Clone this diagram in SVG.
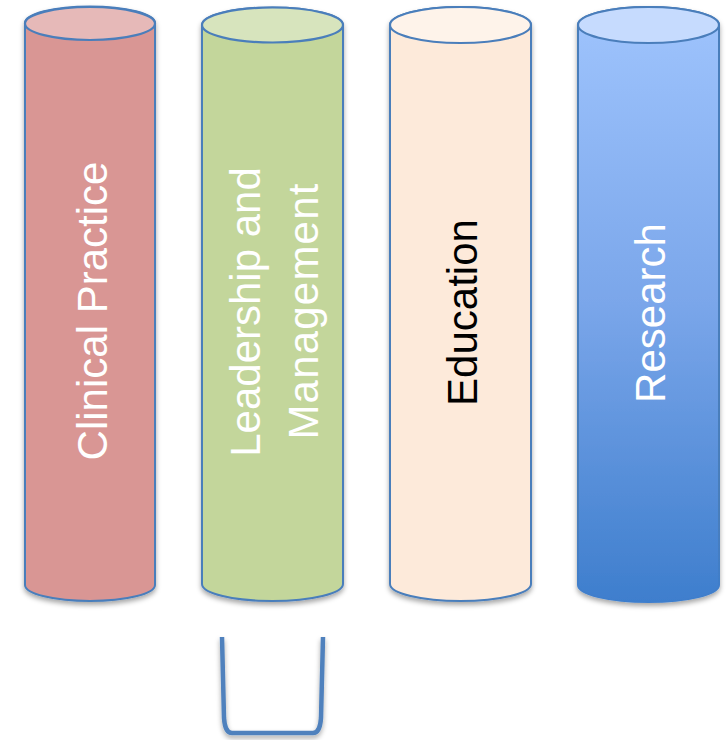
<svg xmlns="http://www.w3.org/2000/svg" width="726" height="741" viewBox="0 0 726 741">
<defs>
<linearGradient id="blueGrad" x1="0" y1="0" x2="0" y2="1">
<stop offset="0" stop-color="#9FC4FD"/>
<stop offset="0.5" stop-color="#7AA6EA"/>
<stop offset="1" stop-color="#3E7ECD"/>
</linearGradient>
<linearGradient id="blueStroke" x1="0" y1="0" x2="0" y2="1">
<stop offset="0" stop-color="#4A7EBB"/>
<stop offset="0.85" stop-color="#4A7EBB"/>
<stop offset="1" stop-color="#3E7ECD"/>
</linearGradient>
<filter id="shadow" x="-10%" y="-5%" width="120%" height="112%">
<feDropShadow dx="0" dy="3" stdDeviation="2.5" flood-color="#000" flood-opacity="0.35"/>
</filter>
</defs>
<style>
.body{stroke:#4A7EBB;stroke-width:2;}
.top{stroke:#4A7EBB;stroke-width:2.2;}
.lbl{font-family:"Liberation Sans",Arial,sans-serif;font-size:42px;text-anchor:middle;}
.w{fill:#FFFFFF;}
.k{fill:#000000;}
</style>
<rect width="726" height="741" fill="#FFFFFF"/>
<g id="clinical-practice">
<path class="body" filter="url(#shadow)" fill="#D99694" d="M25 23 L25 585 A65 16 0 0 0 155 585 L155 23 A65 16.5 0 0 0 25 23 Z"/>
<ellipse class="top" fill="#E6B9B8" cx="90" cy="23.5" rx="65" ry="16.5"/>
<text class="lbl w" transform="translate(107,311) rotate(-90)">Clinical Practice</text>
</g>
<g id="leadership-management">
<path class="body" filter="url(#shadow)" fill="#C3D69B" d="M202 25 L202 584 A70.5 17 0 0 0 343 584 L343 25 A70.5 17.5 0 0 0 202 25 Z"/>
<ellipse class="top" fill="#D7E4BD" cx="272.5" cy="25" rx="70.5" ry="17.5"/>
<text class="lbl w" transform="translate(260,312) rotate(-90)">Leadership and</text>
<text class="lbl w" letter-spacing="1.2" transform="translate(318,311) rotate(-90)">Management</text>
</g>
<g id="education">
<path class="body" filter="url(#shadow)" fill="#FDEADA" d="M390 25 L390 584 A70.5 17 0 0 0 531 584 L531 25 A70.5 18 0 0 0 390 25 Z"/>
<ellipse class="top" fill="#FEF3EA" cx="460.5" cy="25" rx="70.5" ry="18"/>
<text class="lbl k" transform="translate(477,312.5) rotate(-90)">Education</text>
</g>
<g id="research">
<path filter="url(#shadow)" fill="url(#blueGrad)" stroke="url(#blueStroke)" stroke-width="2" d="M578 25 L578 585 A70.5 17 0 0 0 719 585 L719 25 A70.5 18 0 0 0 578 25 Z"/>
<ellipse class="top" fill="#C6DBFE" cx="648.5" cy="25" rx="70.5" ry="18"/>
<text class="lbl w" transform="translate(665,313) rotate(-90)">Research</text>
</g>
<g id="connectors">
<path filter="url(#shadow)" fill="none" stroke="#4F81BD" stroke-width="4.5" d="M222 637 L224 718 Q225 733 232 733 L313 733 Q320 733 321 718 L323 637"/>
</g>
</svg>
